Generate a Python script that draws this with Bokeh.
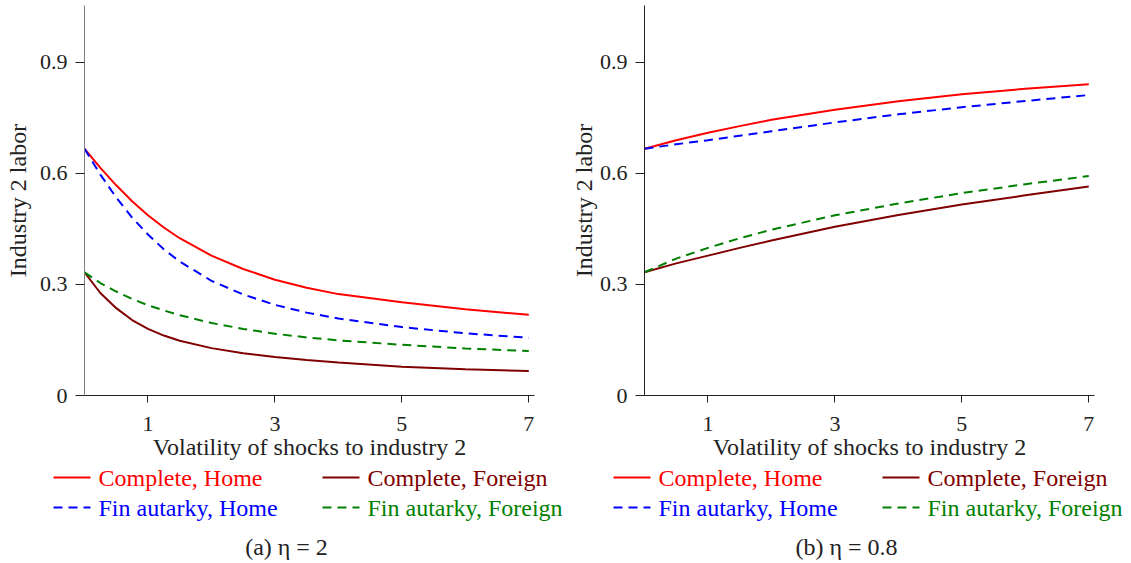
from bokeh.plotting import figure
from bokeh.layouts import row, column
from bokeh.models import Range1d, FixedTicker
from bokeh.core.properties import value
from bokeh.embed import file_html
from bokeh.resources import INLINE

# ---------------- data ----------------
x_a = [0, 0.25, 0.5, 0.75, 1, 1.25, 1.5, 2, 2.5, 3, 3.5, 4, 5, 6, 7]
a_complete_home = [0.667, 0.615, 0.568, 0.525, 0.487, 0.454, 0.425, 0.378, 0.342, 0.313, 0.291, 0.274, 0.252, 0.233, 0.218]
a_complete_foreign = [0.333, 0.277, 0.236, 0.204, 0.18, 0.162, 0.148, 0.128, 0.114, 0.104, 0.096, 0.089, 0.078, 0.071, 0.066]
a_fin_home = [0.667, 0.597, 0.535, 0.481, 0.435, 0.395, 0.362, 0.31, 0.273, 0.245, 0.224, 0.208, 0.185, 0.168, 0.156]
a_fin_foreign = [0.333, 0.304, 0.281, 0.261, 0.244, 0.23, 0.217, 0.196, 0.18, 0.167, 0.157, 0.149, 0.137, 0.127, 0.12]

x_b = [0, 0.5, 1, 1.5, 2, 3, 4, 5, 6, 7]
b_complete_home = [0.667, 0.69, 0.71, 0.728, 0.745, 0.772, 0.795, 0.814, 0.829, 0.841]
b_complete_foreign = [0.333, 0.357, 0.378, 0.399, 0.419, 0.456, 0.488, 0.516, 0.541, 0.565]
b_fin_home = [0.667, 0.679, 0.69, 0.702, 0.714, 0.738, 0.76, 0.779, 0.796, 0.812]
b_fin_foreign = [0.333, 0.37, 0.399, 0.425, 0.448, 0.487, 0.519, 0.547, 0.571, 0.593]

x_ticks = [1, 3, 5, 7]
y_ticks = [0, 0.3, 0.6, 0.9]
y_tick_labels = ["0", "0.3", "0.6", "0.9"]
series_names = ["Complete, Home", "Complete, Foreign", "Fin autarky, Home", "Fin autarky, Foreign"]
series_colors = ["#ff0000", "#800000", "#0000ff", "#008000"]
series_dash = ["solid", "solid", "9 6", "9 6"]
captions = ["(a) \u03b7 = 2", "(b) \u03b7 = 0.8"]
x_title = "Volatility of shocks to industry 2"
y_title = "Industry 2 labor"

FONT = "Liberation Serif"
FS_TICK = "22px"
FS_TXT = "24px"
INK = "#222222"


def make_panel(x, ys, yaxis_color, width, left, ylab_standoff):
    p = figure(width=width, height=463, output_backend="svg", toolbar_location=None,
               x_range=Range1d(0, 7.09), y_range=Range1d(0, 1.054),
               frame_width=450, frame_height=390,
               min_border_left=left, min_border_top=5, min_border_bottom=68,
               min_border_right=width - left - 450)
    p.outline_line_color = None
    p.xgrid.visible = False
    p.ygrid.visible = False

    for y, c, d in zip(ys, series_colors, series_dash):
        p.line(x, y, line_color=c, line_width=2, line_dash=d)

    xa = p.xaxis[0]
    xa.ticker = FixedTicker(ticks=x_ticks)
    xa.minor_tick_line_color = None
    xa.major_tick_out = 7
    xa.major_tick_in = 0
    xa.axis_line_color = INK
    xa.major_tick_line_color = INK
    xa.major_label_text_font = FONT
    xa.major_label_text_font_size = FS_TICK
    xa.major_label_text_color = INK
    xa.major_label_standoff = 14
    xa.axis_label = x_title
    xa.axis_label_text_font = FONT
    xa.axis_label_text_font_size = FS_TXT
    xa.axis_label_text_font_style = "normal"
    xa.axis_label_text_color = INK
    xa.axis_label_standoff = 0

    ya = p.yaxis[0]
    ya.ticker = FixedTicker(ticks=y_ticks)
    ya.major_label_overrides = {t: s for t, s in zip(y_ticks, y_tick_labels)}
    ya.minor_tick_line_color = None
    ya.major_tick_out = 9
    ya.major_tick_in = 0
    ya.axis_line_color = yaxis_color
    ya.major_tick_line_color = INK
    ya.major_label_text_font = FONT
    ya.major_label_text_font_size = FS_TICK
    ya.major_label_text_color = INK
    ya.major_label_standoff = 8
    ya.axis_label = y_title
    ya.axis_label_text_font = FONT
    ya.axis_label_text_font_size = FS_TXT
    ya.axis_label_text_font_style = "normal"
    ya.axis_label_text_color = INK
    ya.axis_label_standoff = ylab_standoff
    return p


def make_legend(caption, width, shift):
    # coordinate system: pixels, y measured from the top of this strip
    q = figure(width=width, height=100, output_backend="svg", toolbar_location=None,
               x_range=Range1d(0, width), y_range=Range1d(100, 0),
               frame_width=width, frame_height=100,
               min_border=0, min_border_left=0, min_border_right=0,
               min_border_top=0, min_border_bottom=0,
               x_axis_location=None, y_axis_location=None)
    q.outline_line_color = None
    q.xgrid.visible = False
    q.ygrid.visible = False
    col_x = [53 + shift, 322 + shift]
    row_y = [14, 44]
    for i, (name, c, d) in enumerate(zip(series_names, series_colors, series_dash)):
        cx = col_x[i % 2]
        ry = row_y[i // 2]
        q.line([cx, cx + 37], [ry, ry], line_color=c, line_width=2, line_dash=d)
        q.text(x=[cx + 45], y=[ry], text=[name], text_font=value(FONT),
               text_font_size=FS_TXT, text_color=c, text_baseline="middle", text_align="left")
    q.text(x=[286 + shift], y=[83], text=[caption], text_font=value(FONT),
           text_font_size=FS_TXT, text_color=INK, text_baseline="middle", text_align="center")
    return q


W_A, W_B = 566, 565
pa = make_panel(x_a, [a_complete_home, a_complete_foreign, a_fin_home, a_fin_foreign], "#808080", W_A, 84, 6)
pb = make_panel(x_b, [b_complete_home, b_complete_foreign, b_fin_home, b_fin_foreign], INK, W_B, 644 - W_A, 0)
la = make_legend(captions[0], W_A, 0)
lb = make_legend(captions[1], W_B, 560 - W_A)

layout = row(column(pa, row(la), spacing=0), column(pb, row(lb), spacing=0), spacing=0)
open("out.html", "w").write(file_html(layout, INLINE))
